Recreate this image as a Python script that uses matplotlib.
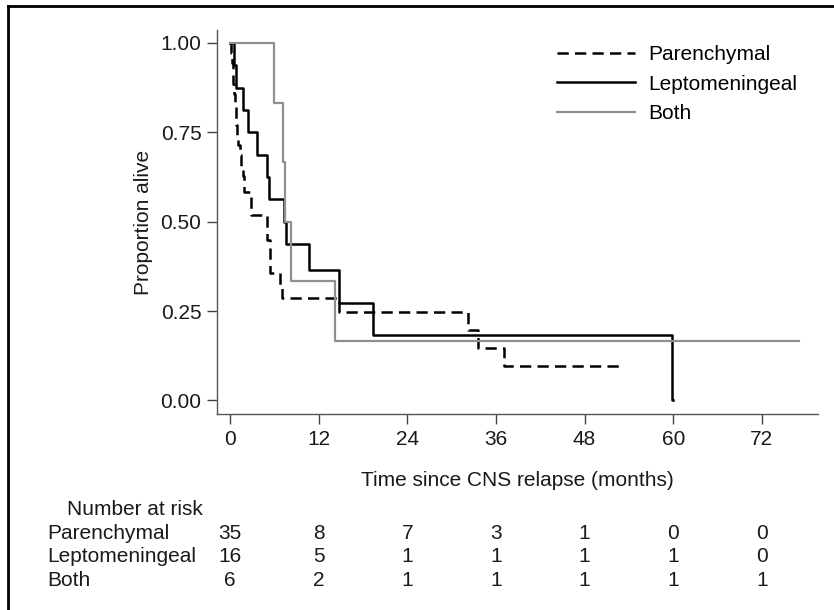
import matplotlib
matplotlib.use("Agg")
import matplotlib.pyplot as plt
from matplotlib.lines import Line2D
from matplotlib.transforms import blended_transform_factory

plt.rcParams['font.family'] = ['Liberation Sans', 'DejaVu Sans']

# Kaplan-Meier steps (time in months, survival)
par_t = [0, 0.15, 0.25, 0.35, 0.45, 0.55, 0.65, 0.75, 0.85, 0.95, 1.1, 1.3, 1.5, 1.7, 1.9,
         2.9, 5.0, 5.4, 6.8, 7.1, 14.8, 32.2, 33.6, 37.1, 53.2]
par_s = [1.0, 0.971, 0.943, 0.914, 0.886, 0.857, 0.829, 0.80, 0.771, 0.743, 0.714, 0.686,
         0.657, 0.629, 0.583, 0.518, 0.45, 0.356, 0.32, 0.286, 0.248, 0.197, 0.148, 0.097, 0.097]

lep_t = [0, 0.5, 0.8, 1.8, 2.5, 3.7, 5.0, 5.3, 7.3, 7.6, 10.7, 14.7, 19.4, 59.9, 60.0]
lep_s = [1.0, 0.9375, 0.875, 0.8125, 0.75, 0.6875, 0.625, 0.5625, 0.5, 0.4375, 0.364,
         0.273, 0.182, 0.0, 0.0]

both_t = [0, 5.9, 7.2, 7.5, 8.2, 14.2, 77.0]
both_s = [1.0, 0.833, 0.667, 0.5, 0.333, 0.167, 0.167]

groups = ["Parenchymal", "Leptomeningeal", "Both"]
risk_times = [0, 12, 24, 36, 48, 60, 72]
risk_par = [35, 8, 7, 3, 1, 0, 0]
risk_lep = [16, 5, 1, 1, 1, 1, 0]
risk_both = [6, 2, 1, 1, 1, 1, 1]

grey = '#8f8f8f'
txt = '#1a1a1a'
fs = 15

fig = plt.figure(figsize=(8.34, 6.10), dpi=100)
ax = fig.add_axes([0.2598, 0.3218, 0.7210, 0.6290])

ax.step(par_t, par_s, where='post', color='black', lw=1.8, dashes=(4.5, 2.5))
ax.step(lep_t, lep_s, where='post', color='black', lw=1.8)
ax.step(both_t, both_s, where='post', color=grey, lw=1.6)

ax.set_xlim(-1.8, 79.6)
ax.set_ylim(-0.037, 1.036)
ax.set_xticks(risk_times)
ax.set_yticks([0, 0.25, 0.5, 0.75, 1.0])
ax.set_yticklabels(['0.00', '0.25', '0.50', '0.75', '1.00'])
ax.tick_params(direction='out', length=7, width=1, color='#444444',
               labelsize=fs, labelcolor=txt, pad=4)
ax.tick_params(axis='x', pad=5)
for side in ['top', 'right']:
    ax.spines[side].set_visible(False)
for side in ['left', 'bottom']:
    ax.spines[side].set_color('#555555')
    ax.spines[side].set_linewidth(1.0)

fig.text(0.1715, 0.636, 'Proportion alive', rotation=90, ha='center', va='center',
         fontsize=fs, color=txt)
fig.text(0.62, 0.2115, 'Time since CNS relapse (months)', ha='center', va='center',
         fontsize=fs, color=txt)

handles = [Line2D([], [], color='black', lw=1.8, dashes=(4.5, 2.5)),
           Line2D([], [], color='black', lw=1.8),
           Line2D([], [], color=grey, lw=1.6)]
fig.legend(handles, groups, loc='upper left', bbox_to_anchor=(0.668, 0.926),
           frameon=False, fontsize=fs, handlelength=3.75, handletextpad=0.62,
           labelspacing=0.5, borderpad=0, borderaxespad=0)

# number at risk table
tr = blended_transform_factory(ax.transData, fig.transFigure)
fig.text(0.0803, 0.164, 'Number at risk', ha='left', va='center', fontsize=fs, color=txt)
row_y = [0.1262, 0.0885, 0.049]
for name, counts, yy in zip(groups, [risk_par, risk_lep, risk_both], row_y):
    fig.text(0.0564, yy, name, ha='left', va='center', fontsize=fs, color=txt)
    for t, n in zip(risk_times, counts):
        ax.text(t, yy, str(n), transform=tr, ha='center', va='center',
                fontsize=fs, color=txt, clip_on=False)

# outer frame (left and top edges only)
fig.add_artist(Line2D([0.0096, 0.0096], [0.0, 0.990], transform=fig.transFigure,
                      color='black', lw=2))
fig.add_artist(Line2D([0.0096, 1.0], [0.990, 0.990], transform=fig.transFigure,
                      color='black', lw=2))

fig.savefig('out.png', dpi=100)
